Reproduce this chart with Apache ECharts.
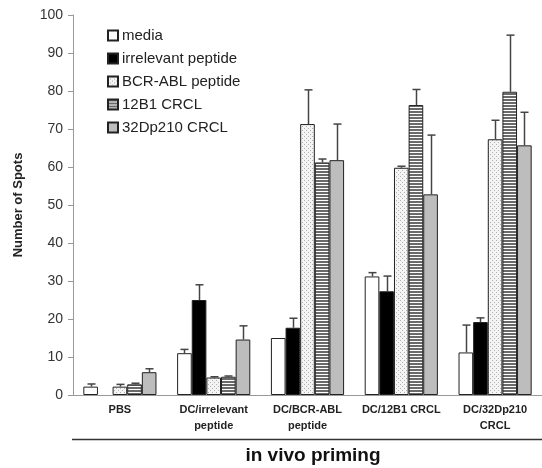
<!DOCTYPE html>
<html><head><meta charset="utf-8">
<script src="https://cdn.jsdelivr.net/npm/echarts@6/dist/echarts.min.js"></script>
<style>html,body{margin:0;padding:0;background:#fff}#c{width:542px;height:468px}</style>
</head><body><div id="c"></div>
<script>
const categories = ['PBS', 'DC/irrelevant\npeptide', 'DC/BCR-ABL\npeptide', 'DC/12B1 CRCL', 'DC/32Dp210\nCRCL'];
const seriesNames = ['media', 'irrelevant peptide', 'BCR-ABL peptide', '12B1 CRCL', '32Dp210 CRCL'];
const media = [2.2, 11.0, 15.0, 31.2, 11.2];
const irrelevant = [0, 25.0, 17.7, 27.3, 19.2];
const bcrAbl = [2.2, 4.6, 71.3, 59.8, 67.3];
const crcl12B1 = [2.8, 4.8, 61.2, 76.3, 79.8];
const crcl32Dp = [6.0, 14.6, 61.8, 52.8, 65.7];
const mediaErr = [0.7, 1.0, 0, 1.0, 7.2];
const irrelevantErr = [0, 4.0, 2.5, 4.0, 1.1];
const bcrAblErr = [0.6, 0.2, 9.0, 0.4, 5.0];
const crcl12B1Err = [0.3, 0.2, 0.9, 4.1, 14.9];
const crcl32DpErr = [0.9, 3.6, 9.5, 15.6, 8.7];
const yTicks = [0, 10, 20, 30, 40, 50, 60, 70, 80, 90, 100];

function makeDots() {
  const c = document.createElement('canvas'); c.width = 4; c.height = 4;
  const g = c.getContext('2d');
  g.fillStyle = '#f4f4f4'; g.fillRect(0, 0, 4, 4);
  g.fillStyle = '#b0b0b0'; g.fillRect(0, 0, 1, 1); g.fillRect(2, 2, 1, 1);
  return c;
}
function makeStripes() {
  const c = document.createElement('canvas'); c.width = 4; c.height = 3;
  const g = c.getContext('2d');
  g.fillStyle = '#6a6a6a'; g.fillRect(0, 0, 4, 3);
  g.fillStyle = '#ffffff'; g.fillRect(0, 2, 4, 1);
  return c;
}
const fills = ['#ffffff', '#000000', {image: makeDots(), repeat: 'repeat'}, {image: makeStripes(), repeat: 'repeat'}, '#bdbdbd'];
const values = [media, irrelevant, bcrAbl, crcl12B1, crcl32Dp];
const errs = [mediaErr, irrelevantErr, bcrAblErr, crcl12B1Err, crcl32DpErr];
const gap = 0.22;
const FONT = 'Liberation Sans, Arial, sans-serif';

const series = [];
values.forEach((v, i) => {
  series.push({
    name: seriesNames[i], type: 'bar', barGap: '0%', barCategoryGap: (gap * 100) + '%',
    data: v.map(val => val === 0 ? {value: 0, itemStyle: {borderWidth: 0}} : val),
    itemStyle: {color: fills[i], borderColor: '#222', borderWidth: 1},
    z: 2
  });
});
values.forEach((v, i) => {
  series.push({
    type: 'custom', z: 3, silent: true,
    data: v.map((val, k) => [k, val, val + errs[i][k]]),
    renderItem: function (params, api) {
      const k = api.value(0), val = api.value(1), top = api.value(2);
      if (top - val <= 0.05) return null;
      const catW = api.size([1, 0])[0];
      const bw = catW * (1 - gap) / 5;
      const p0 = api.coord([k, val]);
      const p1 = api.coord([k, top]);
      const x = Math.round(p0[0] + (i - 2) * bw) + 0.5;
      return {type: 'group', children: [
        {type: 'line', shape: {x1: x, y1: p0[1], x2: x, y2: p1[1]}, style: {stroke: '#444', lineWidth: 1.5}},
        {type: 'line', shape: {x1: x - 4, y1: p1[1], x2: x + 4, y2: p1[1]}, style: {stroke: '#444', lineWidth: 1.5}}
      ]};
    }
  });
});

const chart = echarts.init(document.getElementById('c'));
chart.setOption({
  animation: false,
  backgroundColor: '#fff',
  textStyle: {fontFamily: FONT},
  grid: {left: 73, top: 15, bottom: 73, width: 485},
  legend: {
    data: seriesNames, orient: 'vertical', left: 107, top: 28, padding: 0,
    itemWidth: 10, itemHeight: 10, itemGap: 8, icon: 'rect',
    textStyle: {fontSize: 15, color: '#222', fontFamily: FONT, padding: [0, 0, 0, -1]}
  },
  xAxis: {
    type: 'category', data: categories,
    axisLine: {lineStyle: {color: '#999'}},
    axisTick: {length: 3, lineStyle: {color: '#999'}},
    axisLabel: {fontSize: 11, fontWeight: 'bold', color: '#222', lineHeight: 16, margin: 7, interval: 0}
  },
  yAxis: {
    type: 'value', min: 0, max: 100, interval: 10,
    name: 'Number of Spots', nameLocation: 'middle', nameGap: 48,
    nameTextStyle: {fontSize: 13, fontWeight: 'bold', color: '#222'},
    axisLine: {show: true, lineStyle: {color: '#999'}},
    axisTick: {show: true, length: 5, lineStyle: {color: '#999'}},
    splitLine: {show: false},
    axisLabel: {fontSize: 14, color: '#333', margin: 10,
      formatter: v => yTicks.indexOf(v) >= 0 ? String(v) : ''}
  },
  graphic: [
    {type: 'line', shape: {x1: 72, y1: 439.5, x2: 542, y2: 439.5}, style: {stroke: '#333', lineWidth: 1.5}},
    {type: 'text', x: 313, y: 456, style: {text: 'in vivo priming', fontSize: 19, fontWeight: 'bold', fill: '#111', fontFamily: FONT, align: 'center', verticalAlign: 'middle'}}
  ],
  series: series
});
</script></body></html>
